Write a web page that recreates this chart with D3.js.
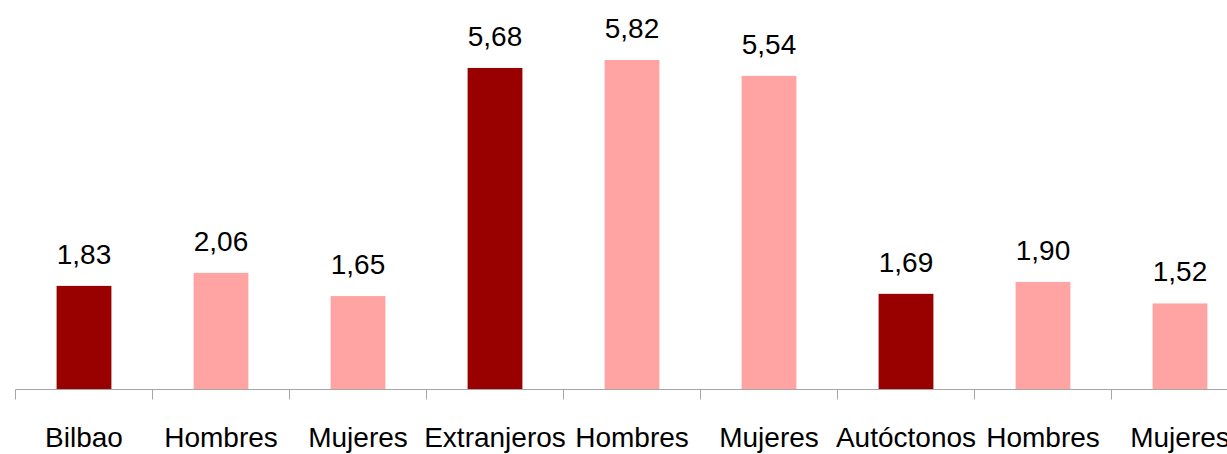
<!DOCTYPE html>
<html lang="es">
<head>
<meta charset="utf-8">
<script src="https://d3js.org/d3.v7.min.js"></script>
<style type="text/css">
body {
	margin: 0;
	background: #fff;
}
.value, .cat {
	font-family: "Liberation Sans", Arial, sans-serif;
	font-size: 28px;
	fill: #000;
}
</style>
</head>
<body>
<script type="text/javascript">

// Chart data
var categories = ["Bilbao", "Hombres", "Mujeres", "Extranjeros", "Hombres", "Mujeres", "Autóctonos", "Hombres", "Mujeres"];
var values = [1.83, 2.06, 1.65, 5.68, 5.82, 5.54, 1.69, 1.90, 1.52];
var isTotal = [true, false, false, true, false, false, true, false, false];

var width = 1227;
var height = 454;
var baseY = 389.5;

var svg = d3.select("body")
            .append("svg")
            .attr("width", width)
            .attr("height", height);

// one band per category, 137px step; the last band runs off the right edge
var x = d3.scaleBand()
          .domain(d3.range(categories.length))
          .range([15.5, 15.5 + 137 * categories.length])
          .paddingInner(0.6)
          .paddingOuter(0.3);

var y = d3.scaleLinear()
          .domain([0, 6.88])
          .range([baseY, 0]);

var barColor = function(i) { return isTotal[i] ? "#990000" : "#ffa3a3"; };

// bars
svg.selectAll("rect.bar")
   .data(values)
   .enter()
   .append("rect")
   .attr("class", "bar")
   .attr("x", function(d, i) { return x(i); })
   .attr("width", x.bandwidth())
   .attr("y", function(d) { return y(d); })
   .attr("height", function(d) { return baseY - y(d); })
   .style("fill", function(d, i) { return barColor(i); });

// value labels above the bars
svg.selectAll("text.value")
   .data(values)
   .enter()
   .append("text")
   .attr("class", "value")
   .attr("x", function(d, i) { return x(i) + x.bandwidth() / 2; })
   .attr("y", function(d) { return y(d) - 22; })
   .attr("text-anchor", "middle")
   .text(function(d) { return d3.format(".2f")(d).replace(".", ","); });

// x axis line with ticks between the categories
var ax = svg.append("g");
ax.append("line")
  .attr("x1", 15.5)
  .attr("x2", width)
  .attr("y1", baseY)
  .attr("y2", baseY)
  .style("stroke", "#a6a6a6")
  .style("stroke-width", 1);

ax.selectAll("line.tick")
  .data(d3.range(categories.length + 1))
  .enter()
  .append("line")
  .attr("class", "tick")
  .attr("x1", function(k) { return 15.5 + x.step() * k; })
  .attr("x2", function(k) { return 15.5 + x.step() * k; })
  .attr("y1", baseY)
  .attr("y2", baseY + 10)
  .style("stroke", "#a6a6a6")
  .style("stroke-width", 1);

// category labels
svg.selectAll("text.cat")
   .data(categories)
   .enter()
   .append("text")
   .attr("class", "cat")
   .attr("x", function(d, i) { return x(i) + x.bandwidth() / 2; })
   .attr("y", 447)
   .attr("text-anchor", "middle")
   .text(function(d) { return d; });

</script>
</body>
</html>
